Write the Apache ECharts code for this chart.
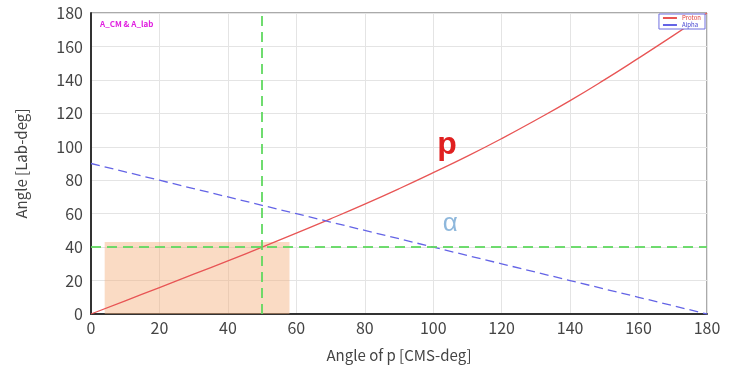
<!DOCTYPE html>
<html><head><meta charset="utf-8">
<script src="https://cdn.jsdelivr.net/npm/echarts@6/dist/echarts.min.js"></script>
<style>html,body{margin:0;padding:0;background:#fff}#c{width:735px;height:371px}</style>
</head><body><div id="c"></div>
<script>
var cmsAngles = [0,10,20,30,40,50,60,70,80,90,100,110,120,130,140,150,160,170,180];
var protonLab = [0,7.9,15.8,23.8,31.8,40,48.4,56.9,65.7,74.9,84.5,94.4,104.9,116,127.6,140,153,166.3,180];
var alphaLab = [90,85,80,75,70,65,60,55,50,45,40,35,30,25,20,15,10,5,0];
var xTicks = [0,20,40,60,80,100,120,140,160,180];
var yTicks = [0,20,40,60,80,100,120,140,160,180];
var cutX = 50, cutY = 40;
var shadeX = [4,58], shadeY = [0,43];

var font = '"Noto Sans CJK KR","Noto Sans",sans-serif';
var chart = echarts.init(document.getElementById('c'));
function pairs(xs, ys){ return xs.map(function(x,i){return [x, ys[i]];}); }
chart.setOption({
  animation:false,
  grid:{left:91,right:28,top:13,bottom:57,show:true,borderColor:'#555',borderWidth:1},
  title:{text:'A_CM & A_lab',left:95,top:15,textStyle:{fontSize:8,fontWeight:'bold',color:'#e020e0',fontFamily:font}},
  legend:{right:30,top:14,orient:'vertical',itemWidth:14,itemHeight:2,itemGap:1,padding:[1,4,1,4],
    borderColor:'#7070e0',borderWidth:1,backgroundColor:'#fff',textStyle:{fontSize:6,color:'#e04040',fontFamily:font},
    icon:'rect',data:[{name:'Proton',textStyle:{color:'#e04040'}},{name:'Alpha',textStyle:{color:'#4040d0'}}]},
  xAxis:{type:'value',min:0,max:180,interval:20,name:'Angle of p [CMS-deg]',nameLocation:'middle',nameGap:34,
    nameTextStyle:{fontSize:15,color:'#444',fontFamily:font},
    axisLine:{show:true,lineStyle:{color:'#333',width:2}},axisTick:{show:false},
    axisLabel:{fontSize:16,color:'#444',fontFamily:font,margin:6},
    splitLine:{show:true,lineStyle:{color:'#e4e4e4'}}},
  yAxis:{type:'value',min:0,max:180,interval:20,name:'Angle [Lab-deg]',nameLocation:'middle',nameGap:62,
    nameTextStyle:{fontSize:15,color:'#444',fontFamily:font},
    axisLine:{show:true,lineStyle:{color:'#333',width:2}},axisTick:{show:false},
    axisLabel:{fontSize:16,color:'#444',fontFamily:font,margin:8},
    splitLine:{show:true,lineStyle:{color:'#e4e4e4'}}},
  series:[
    {name:'Proton',type:'line',data:pairs(cmsAngles,protonLab),smooth:true,showSymbol:false,
      lineStyle:{color:'#e85555',width:1.3},itemStyle:{color:'#e85555'},z:3,
      markArea:{silent:true,itemStyle:{color:'rgba(245,175,125,0.45)'},data:[[{coord:[shadeX[0],shadeY[0]]},{coord:[shadeX[1],shadeY[1]]}]]}},
    {name:'Alpha',type:'line',data:pairs(cmsAngles,alphaLab),showSymbol:false,
      lineStyle:{color:'#6464e6',width:1.3,type:[9,5]},itemStyle:{color:'#6464e6'},z:3},
    {name:'cut',type:'line',data:[],z:4,
      markLine:{silent:true,symbol:'none',label:{show:false},
        lineStyle:{color:'#5fd85f',width:2,type:[10,6],opacity:0.9},
        data:[[{coord:[cutX,0]},{coord:[cutX,180]}],[{coord:[0,cutY]},{coord:[180,cutY]}]]}}
  ]
});
var pP = chart.convertToPixel({gridIndex:0},[104,101]);
var pA = chart.convertToPixel({gridIndex:0},[105,54]);
chart.setOption({graphic:[
  {type:'text',x:pP[0],y:pP[1],style:{text:'p',fontSize:32,fontWeight:'bold',fill:'#e02020',font:'bold 32px '+font,textAlign:'center',textVerticalAlign:'middle'}},
  {type:'text',x:pA[0],y:pA[1],style:{text:'α',fontSize:26,fill:'#8fb8dc',font:'26px '+font,textAlign:'center',textVerticalAlign:'middle'}}
]});
</script></body></html>
